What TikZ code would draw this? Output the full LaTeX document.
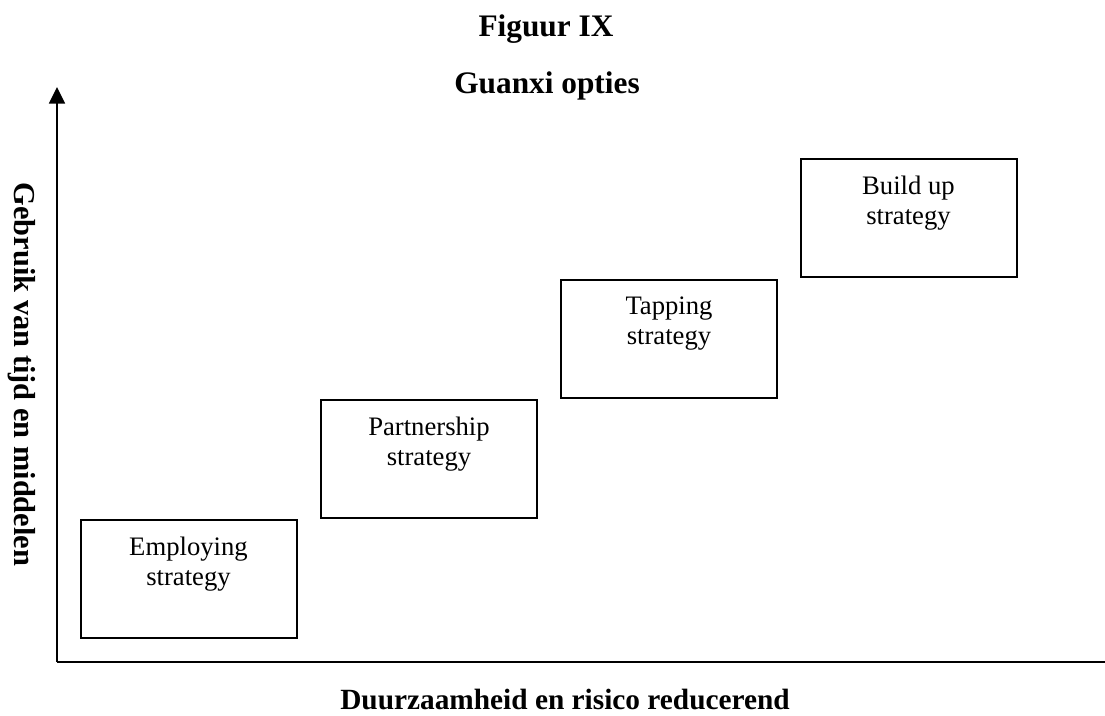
\documentclass[tikz,border=0pt]{standalone}
\usepackage{fontspec}
\setmainfont{Liberation Serif}
\usetikzlibrary{arrows.meta}

\begin{document}
\begin{tikzpicture}[x=0.75pt,y=-0.75pt,
  stratbox/.style={draw, line width=1.5pt, minimum width=162pt, minimum height=89pt, inner sep=0pt},
  strattext/.style={inner sep=0pt, align=center, font=\fontsize{20}{22.5}\selectfont},
  titletext/.style={inner sep=0pt, font=\fontsize{23.5}{26}\selectfont\bfseries},
  axistext/.style={inner sep=0pt, font=\fontsize{22}{24}\selectfont\bfseries},
  axisline/.style={line width=1.3pt}]
  \useasboundingbox (0,0) rectangle (1105,715);

  % titles
  \node[titletext, anchor=base] (fig) at (546,36) {Figuur IX};
  \node[titletext, anchor=base] (title) at (547,93) {Guanxi opties};

  % axes
  \coordinate (o) at (57,662);
  \coordinate (ytop) at (57,87);
  \coordinate (xend) at (1105,662);
  \draw[axisline, -{Triangle[width=12pt,length=12.5pt]}] (o) -- (ytop);
  \draw[axisline] (o) -- (xend);

  % axis labels
  \node[axistext, font=\fontsize{22.8}{25}\selectfont\bfseries, rotate=-90] (ylab) at (22,374.5) {Gebruik van tijd en middelen};
  \node[axistext, anchor=base] (xlab) at (565,709) {Duurzaamheid en risico reducerend};

  % strategy boxes
  \node[stratbox] (emp) at (188.5,579) {};
  \node[stratbox] (part) at (429,459) {};
  \node[stratbox] (tap) at (669,339) {};
  \node[stratbox] (build) at (908.5,218) {};

  \node[strattext, anchor=north] (empT) at ([yshift=-13.5pt]emp.north) {Employing\\strategy};
  \node[strattext, anchor=north] (partT) at ([yshift=-13.5pt]part.north) {Partnership\\strategy};
  \node[strattext, anchor=north] (tapT) at ([yshift=-13.5pt]tap.north) {Tapping\\strategy};
  \node[strattext, anchor=north] (buildT) at ([yshift=-13.5pt]build.north) {Build up\\strategy};
\end{tikzpicture}
\end{document}
